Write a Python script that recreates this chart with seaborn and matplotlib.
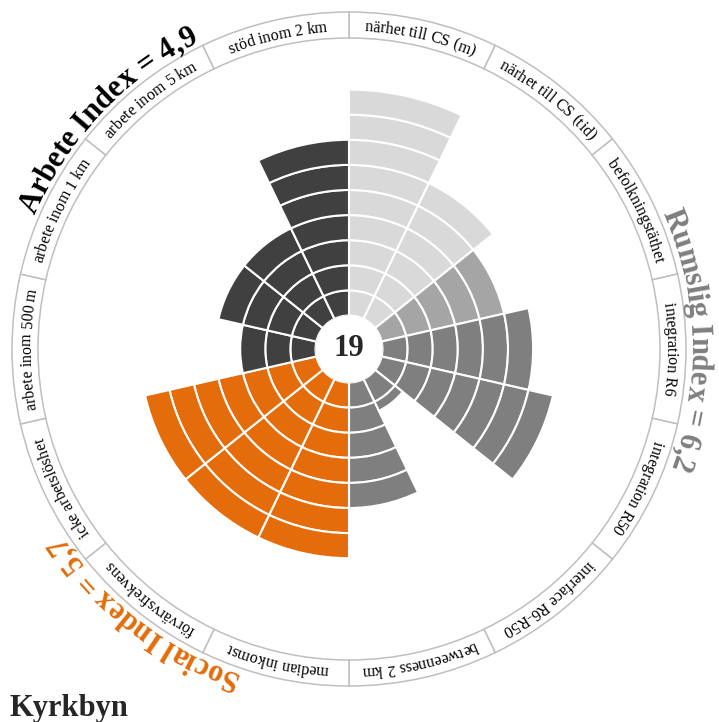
import numpy as np
import matplotlib
matplotlib.use("Agg")
import matplotlib.pyplot as plt
import seaborn as sns
from matplotlib.font_manager import FontProperties, findfont, get_font

# Data
labels = ["närhet till CS (m)", "närhet till CS (tid)", "befolkningstäthet", "integration R6",
          "integration R50", "interface R6-R50", "betweenness 2 km", "median inkomst",
          "förvärvsfrekvens", "icke arbetslöshet", "arbete inom 500 m", "arbete inom 1 km",
          "arbete inom 5 km", "stöd inom 2 km"]
values = [9, 6, 5, 6, 7, 1.4, 5, 7, 7, 7, 3, 4, 4, 7]
colors = ["#d9d9d9", "#d9d9d9", "#a5a5a5", "#7f7f7f", "#7f7f7f", "#7f7f7f", "#7f7f7f",
          "#e46c0a", "#e46c0a", "#e46c0a", "#404040", "#404040", "#404040", "#404040"]
index_texts = ["Rumslig Index = 6,2", "Social Index = 5,7", "Arbete Index = 4,9"]
index_colors = ["#7f7f7f", "#e46c0a", "#000000"]
center_value = "19"
place_name = "Kyrkbyn"

sns.set_style("white")
plt.rcParams['font.family'] = ['Liberation Serif', 'DejaVu Serif']

# Layout (pixels)
W, H, DPI = 719, 722, 100
cx, cy = 349, 349
unit = 25.1          # px per value step
hole = 33.5 / unit   # hole radius in value units
rmax = 12.3
R = (rmax + hole) * unit


def px_to_r(px):
    return px / unit - hole


fig = plt.figure(figsize=(W / DPI, H / DPI), dpi=DPI)
ax = fig.add_axes([(cx - R) / W, (H - cy - R) / H, 2 * R / W, 2 * R / H], projection='polar')
ax.set_theta_zero_location('N')
ax.set_theta_direction(-1)
ax.set_ylim(0, rmax)
ax.set_rorigin(-hole)
ax.axis('off')

n = len(labels)
width = 2 * np.pi / n
theta = np.arange(n) * width + width / 2

# stacked unit segments
for th, v, c in zip(theta, values, colors):
    k = 0
    while k < v:
        ax.bar(th, min(1, v - k), width=width, bottom=k, color=c,
               edgecolor='white', linewidth=1.5, align='center')
        k += 1

# label ring
r_in, r_out = px_to_r(311), px_to_r(337)
ax.bar(theta, r_out - r_in, width=width, bottom=r_in, color='white',
       edgecolor='#bfbfbf', linewidth=1.1)


def curved_text(text, th_c, r_px, size, weight='normal', color='black'):
    prop = FontProperties(family='Liberation Serif', size=size, weight=weight)
    font = get_font(findfont(prop))
    font.set_size(size, 72)
    adv = []
    for ch in text:
        g = font.load_char(ord(ch))
        adv.append(g.linearHoriAdvance / 65536 * DPI / 72)
    total = sum(adv)
    start = th_c - total / 2 / r_px
    pos = 0
    r = px_to_r(r_px)
    for ch, a in zip(text, adv):
        t = start + (pos + a / 2) / r_px
        ax.text(t, r, ch, rotation=-np.degrees(t), rotation_mode='anchor',
                ha='center', va='baseline', fontsize=size, fontweight=weight,
                color=color, clip_on=False)
        pos += a


for th, lab in zip(theta, labels):
    curved_text(lab, th, 318, 11.5)

for txt, col, ang in zip(index_texts, index_colors, [88.5, 218, 313.5]):
    curved_text(txt, np.radians(ang), 342, 22, weight='bold', color=col)

ax.text(0, -hole, center_value, ha='center', va='center', fontsize=22, fontweight='bold')
fig.text(10 / W, 1 - 716 / H, place_name, ha='left', va='baseline', fontsize=22, fontweight='bold')

fig.savefig('out.png', dpi=DPI)
